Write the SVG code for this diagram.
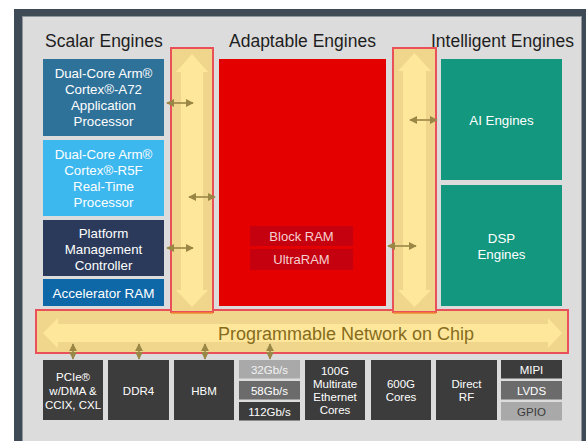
<svg xmlns="http://www.w3.org/2000/svg" width="586" height="441" viewBox="0 0 586 441">
<defs>
<style>
.hdr{font-family:"Liberation Sans",Arial,sans-serif;font-size:17.5px;fill:#1e1e1e}
.t{font-family:"Liberation Sans",Arial,sans-serif;font-size:13.3px;fill:#ffffff;text-anchor:middle}
.s{font-family:"Liberation Sans",Arial,sans-serif;font-size:11.5px;fill:#ffffff;text-anchor:middle}
.ram{font-family:"Liberation Sans",Arial,sans-serif;font-size:13px;fill:#f6d0d0;text-anchor:middle}
.bus{fill:#efd68c;stroke:#e9505a;stroke-width:2}
.busin{fill:#fee79b}
.dk{fill:#3c3c3c}
.md{fill:#6b6b6b}
.lt{fill:#a9a9a9}
.conn{stroke:#9a8645;stroke-width:1.6;fill:none}
</style>
<marker id="ah" viewBox="0 0 10 10" refX="9" refY="5" markerWidth="5" markerHeight="5" orient="auto-start-reverse">
<path d="M0,0 L10,5 L0,10 z" fill="#9a8645"/>
</marker>
</defs>
<rect x="0" y="0" width="586" height="441" fill="#ffffff"/>
<rect x="14" y="9" width="572" height="432" fill="#3e4a56"/>
<rect x="22.5" y="16.5" width="559" height="430" fill="#dcdcdc" stroke="#8f959b" stroke-width="1"/>

<text class="hdr" x="45" y="47">Scalar Engines</text>
<text class="hdr" x="229" y="47">Adaptable Engines</text>
<text class="hdr" x="431" y="47">Intelligent Engines</text>

<g id="a72">
<rect x="43" y="59" width="121" height="77" fill="#2f7299"/>
<text class="t" x="103.5" y="78">Dual-Core Arm®</text>
<text class="t" x="103.5" y="94">Cortex®-A72</text>
<text class="t" x="103.5" y="110">Application</text>
<text class="t" x="103.5" y="126">Processor</text>
</g>
<g id="r5f">
<rect x="43" y="140" width="121" height="76" fill="#3cb8ef"/>
<text class="t" x="103.5" y="159">Dual-Core Arm®</text>
<text class="t" x="103.5" y="175">Cortex®-R5F</text>
<text class="t" x="103.5" y="191">Real-Time</text>
<text class="t" x="103.5" y="207">Processor</text>
</g>
<g id="pmc">
<rect x="43" y="220" width="121" height="56" fill="#2b3a5a"/>
<text class="t" x="103.5" y="238">Platform</text>
<text class="t" x="103.5" y="254">Management</text>
<text class="t" x="103.5" y="270">Controller</text>
</g>
<g id="accram">
<rect x="43" y="279" width="121" height="27" fill="#0e67a7"/>
<text class="t" x="103.5" y="298" style="font-size:13.5px">Accelerator RAM</text>
</g>

<g id="adaptable">
<rect x="219" y="59" width="167" height="247" fill="#e50000"/>
<rect x="250" y="226" width="103" height="20" fill="#c5000f"/>
<text class="ram" x="301.5" y="241">Block RAM</text>
<rect x="250" y="249" width="103" height="21" fill="#c5000f"/>
<text class="ram" x="301.5" y="264">UltraRAM</text>
</g>

<g id="ai">
<rect x="441" y="59" width="121" height="121" fill="#13977e"/>
<text class="t" x="501.5" y="125">AI Engines</text>
</g>
<g id="dsp">
<rect x="441" y="185" width="121" height="121" fill="#13977e"/>
<text class="t" x="501.5" y="243">DSP</text>
<text class="t" x="501.5" y="259">Engines</text>
</g>

<g id="noc">
<rect class="bus" x="36" y="310" width="532" height="43"/>
<path class="busin" d="M43,333 L58,318 L58,324 L548,324 L548,318 L562,333 L548,348 L548,342 L58,342 L58,348 Z"/>
<text x="346" y="340" style="font-family:'Liberation Sans',Arial,sans-serif;font-size:18px;fill:#876b1c;text-anchor:middle">Programmable Network on Chip</text>
</g>

<g id="bus-left">
<rect class="bus" x="171" y="48" width="42" height="264"/>
<path class="busin" d="M192,54 L208,72 L203,72 L203,290 L208,290 L192,307 L176,290 L181,290 L181,72 L176,72 Z"/>
<line x1="171" y1="313" x2="213" y2="313" stroke="#f08a30" stroke-width="1.5"/>
</g>
<g id="bus-right">
<rect class="bus" x="393" y="48" width="43" height="264"/>
<path class="busin" d="M414.5,53 L431,71 L426,71 L426,290 L431,290 L414.5,307 L398,290 L403,290 L403,71 L398,71 Z"/>
<line x1="393" y1="313" x2="436" y2="313" stroke="#f08a30" stroke-width="1.5"/>
</g>

<g id="pcie">
<rect class="dk" x="43" y="360" width="60" height="60"/>
<text class="s" x="73" y="381">PCIe®</text>
<text class="s" x="73" y="395">w/DMA &amp;</text>
<text class="s" x="73" y="409">CCIX, CXL</text>
</g>
<g id="ddr4">
<rect class="dk" x="108" y="360" width="61" height="60"/>
<text class="s" x="138.5" y="395">DDR4</text>
</g>
<g id="hbm">
<rect class="dk" x="174" y="360" width="60" height="60"/>
<text class="s" x="204" y="395">HBM</text>
</g>
<g id="serdes">
<rect class="lt" x="239" y="360" width="61" height="18.5"/>
<text class="s" x="269.5" y="373.5" style="fill:#f2f2f2">32Gb/s</text>
<rect class="md" x="239" y="381" width="61" height="18.5"/>
<text class="s" x="269.5" y="394.5">58Gb/s</text>
<rect class="dk" x="239" y="402" width="61" height="18.5"/>
<text class="s" x="269.5" y="415.5">112Gb/s</text>
</g>
<g id="eth100g">
<rect class="dk" x="305" y="360" width="60" height="60"/>
<text class="s" x="335" y="375">100G</text>
<text class="s" x="335" y="388">Multirate</text>
<text class="s" x="335" y="401">Ethernet</text>
<text class="s" x="335" y="414">Cores</text>
</g>
<g id="cores600g">
<rect class="dk" x="371" y="360" width="60" height="60"/>
<text class="s" x="401" y="388">600G</text>
<text class="s" x="401" y="401">Cores</text>
</g>
<g id="directrf">
<rect class="dk" x="436" y="360" width="61" height="60"/>
<text class="s" x="466.5" y="388">Direct</text>
<text class="s" x="466.5" y="401">RF</text>
</g>
<g id="io">
<rect class="dk" x="501" y="360" width="61" height="18.5"/>
<text class="s" x="531.5" y="373.5">MIPI</text>
<rect class="md" x="501" y="381" width="61" height="18.5"/>
<text class="s" x="531.5" y="394.5">LVDS</text>
<rect class="lt" x="501" y="402" width="61" height="18.5"/>
<text class="s" x="531.5" y="415.5" style="fill:#3a3a3a">GPIO</text>
</g>

<g id="connectors">
<line class="conn" x1="167" y1="103" x2="193" y2="103" marker-start="url(#ah)" marker-end="url(#ah)"/>
<line class="conn" x1="189" y1="197" x2="215" y2="197" marker-start="url(#ah)" marker-end="url(#ah)"/>
<line class="conn" x1="167" y1="248" x2="193" y2="248" marker-start="url(#ah)" marker-end="url(#ah)"/>
<line class="conn" x1="410" y1="120" x2="437" y2="120" marker-start="url(#ah)" marker-end="url(#ah)"/>
<line class="conn" x1="388" y1="246" x2="416" y2="246" marker-start="url(#ah)" marker-end="url(#ah)"/>
<line class="conn" x1="73" y1="344" x2="73" y2="359" marker-start="url(#ah)" marker-end="url(#ah)"/>
<line class="conn" x1="139" y1="344" x2="139" y2="359" marker-start="url(#ah)" marker-end="url(#ah)"/>
<line class="conn" x1="205" y1="344" x2="205" y2="359" marker-start="url(#ah)" marker-end="url(#ah)"/>
<line class="conn" x1="270" y1="344" x2="270" y2="359" marker-start="url(#ah)" marker-end="url(#ah)"/>
</g>
</svg>
